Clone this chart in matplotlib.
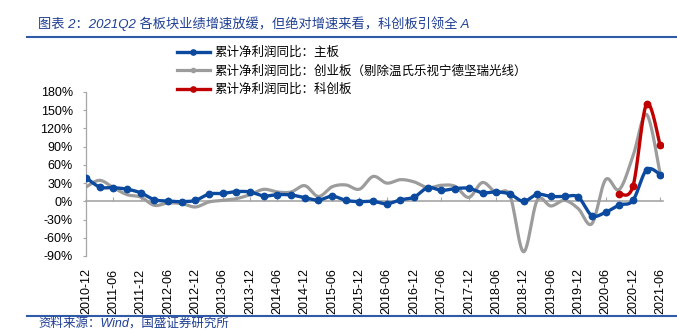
import numpy as np
import pandas as pd
import matplotlib
matplotlib.use("Agg")
import matplotlib.pyplot as plt
from matplotlib.lines import Line2D

plt.rcParams['font.family'] = ['Liberation Sans', 'Noto Sans CJK SC', 'DejaVu Sans']
plt.rcParams['axes.unicode_minus'] = False

# 季度序列 2010-12 ~ 2021-06
quarters = [p.strftime('%Y-%m') for p in pd.period_range('2010Q4', '2021Q2', freq='Q')]

# 累计净利润同比（%）
main_board = [39, 23.6, 22.5, 20, 14, 2.7, 0.5, -0.5, 1.6, 12, 13, 16, 15.4, 8.8, 11,
              10.5, 6, 2, 8.5, 1.6, -0.5, 0, -4, 2.5, 7, 22.5, 18, 21, 21.5, 14,
              15.5, 12, 0, 11.5, 8, 8, 7, -23.5, -18, -6, 1.5, 52, 44]
gem_board = [23.6, 34.6, 22.5, 11, 7, -6.6, -2.7, -3.8, -9.3, -1, 1.6, 4.4, 11, 19.8,
             15.4, 15.4, 25.8, 8, 24, 27, 20, 41, 30, 35.7, 32, 22.5, 26.5, 24.7, 6.5,
             31, 13.7, 10, -83, 1.6, -7.7, 1.6, -12, -36.8, 35.7, 19.3, 74, 143, 44.5]
star_quarters = ['2020-09', '2020-12', '2021-03', '2021-06']
star_board = [12.6, 24.7, 160, 92]

labels = ['累计净利润同比：主板',
          '累计净利润同比：创业板（剔除温氏乐视宁德坚瑞光线）',
          '累计净利润同比：科创板']
yticks = [-90, -60, -30, 0, 30, 60, 90, 120, 150, 180]

BLUE = '#0B4A9E'
GRAY = '#9C9C9C'
RED = '#C00000'
NAVY = '#1F3F94'


def smooth(x, y, n=24):
    # Excel 风格平滑线（Catmull-Rom 转 Bezier）
    x = np.asarray(x, float)
    y = np.asarray(y, float)
    px = np.concatenate([[x[0]], x, [x[-1]]])
    py = np.concatenate([[y[0]], y, [y[-1]]])
    t = np.linspace(0, 1, n)[:, None]
    xs, ys = [], []
    for i in range(1, len(x)):
        p0 = np.array([px[i - 1], py[i - 1]])
        p1 = np.array([px[i], py[i]])
        p2 = np.array([px[i + 1], py[i + 1]])
        p3 = np.array([px[i + 2], py[i + 2]])
        b1 = p1 + (p2 - p0) / 6
        b2 = p2 - (p3 - p1) / 6
        pts = ((1 - t) ** 3) * p1 + 3 * ((1 - t) ** 2) * t * b1 + 3 * (1 - t) * t ** 2 * b2 + t ** 3 * p2
        xs.append(pts[:, 0])
        ys.append(pts[:, 1])
    return np.concatenate(xs), np.concatenate(ys)


fig = plt.figure(figsize=(6.77, 3.32), dpi=100)
ax = fig.add_axes([86 / 677, 76 / 332, 577 / 677, 164 / 332])

xi = np.arange(len(quarters))
star_x = [quarters.index(q) for q in star_quarters]

sx, sy = smooth(xi, gem_board)
ax.plot(sx, sy, color=GRAY, lw=2.3, zorder=3, solid_capstyle='round')

sx, sy = smooth(xi, main_board)
ax.plot(sx, sy, color=BLUE, lw=2.4, zorder=4, solid_capstyle='round')
ax.plot(xi, main_board, 'o', color=BLUE, ms=4.6, zorder=5)

sx, sy = smooth(star_x, star_board)
ax.plot(sx, sy, color=RED, lw=2.4, zorder=6, solid_capstyle='round')
ax.plot(star_x, star_board, 'o', color=RED, ms=4.6, zorder=7)

ax.set_xlim(0, 42.2)
ax.set_ylim(-90, 180)
ax.set_yticks(yticks)
ax.set_yticklabels([f'{v}%' for v in yticks], fontsize=9)
ax.set_xticks(xi[::2])
ax.set_xticklabels(quarters[::2], rotation=90, fontsize=9)
ax.tick_params(axis='x', length=0, pad=9)
ax.tick_params(axis='y', length=2.5, width=0.8, color='#A6A6A6', direction='out', pad=7)

for s in ['top', 'right', 'bottom']:
    ax.spines[s].set_visible(False)
ax.spines['left'].set_color('#A6A6A6')
ax.spines['left'].set_linewidth(0.9)

# 0 轴处的分类轴线和刻度
zero_pos = (0 - ax.get_ylim()[0]) / (ax.get_ylim()[1] - ax.get_ylim()[0])
sec = ax.secondary_xaxis(zero_pos)
sec.set_xticks(xi[::2])
sec.tick_params(axis='x', direction='in', length=3, width=0.8, color='#A6A6A6', labelbottom=False)
sec.spines['bottom'].set_color('#A6A6A6')
sec.spines['bottom'].set_linewidth(1.2)
sec.spines['bottom'].set_zorder(1)

handles = [Line2D([], [], color=BLUE, lw=2.4, marker='o', ms=3.8),
           Line2D([], [], color=GRAY, lw=2.3, marker='o', ms=3),
           Line2D([], [], color=RED, lw=2.4, marker='o', ms=3.8)]
fig.legend(handles, labels, loc='upper left', bbox_to_anchor=(177 / 677, 1 - 46 / 332),
           frameon=False, handlelength=2.6, handletextpad=0.35,
           labelspacing=0.45, borderpad=0, borderaxespad=0,
           prop={'family': ['Noto Sans CJK SC'], 'size': 9})

fig.text(38 / 677, 1 - 23.5 / 332, '图表 2：2021Q2 各板块业绩增速放缓，但绝对增速来看，科创板引领全 A',
         fontsize=9.5, style='italic', color=NAVY, va='center', ha='left',
         family=['Liberation Sans', 'Noto Sans CJK SC'])
fig.text(38 / 677, 1 - 323.5 / 332, '资料来源：Wind，国盛证券研究所',
         fontsize=9, style='italic', color=NAVY, va='center', ha='left',
         family=['Liberation Sans', 'Noto Sans CJK SC'])

fig.add_artist(Line2D([27 / 677, 1], [1 - 36.5 / 332] * 2, transform=fig.transFigure,
                      color='#2F5AA8', lw=1.5))
fig.add_artist(Line2D([27 / 677, 1], [1 - 316 / 332] * 2, transform=fig.transFigure,
                      color='#2F5AA8', lw=1.5))

fig.savefig('out.png', dpi=100)
